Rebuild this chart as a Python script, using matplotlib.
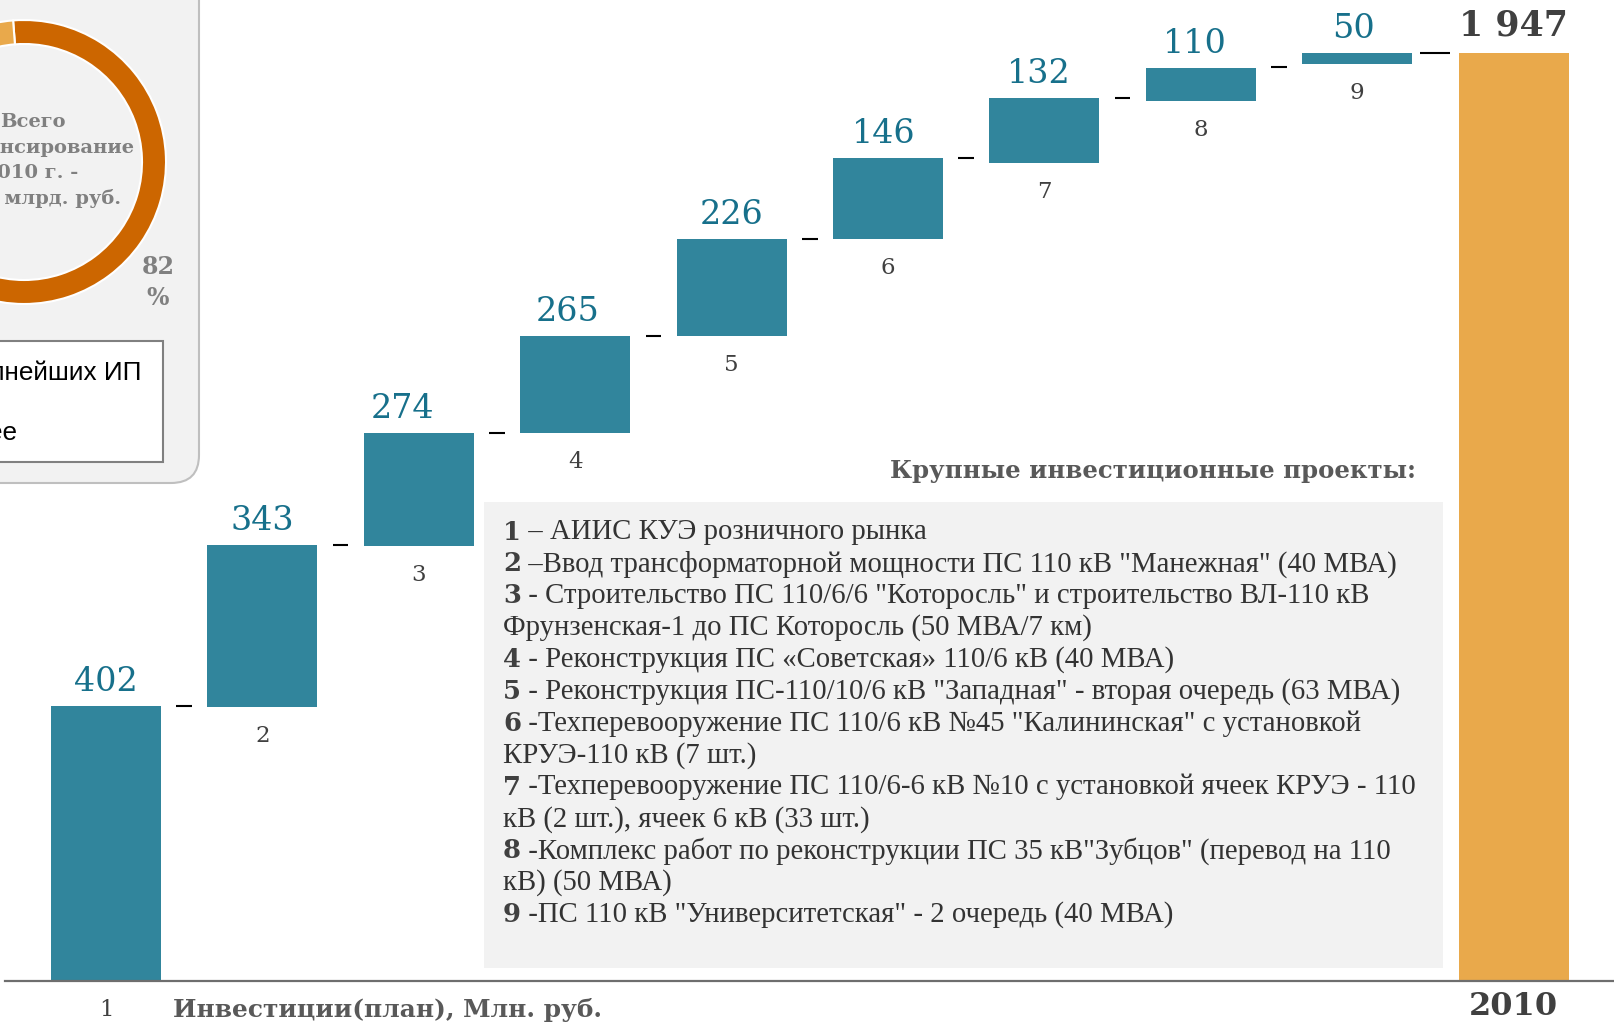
import matplotlib
matplotlib.use('Agg')
import matplotlib.pyplot as plt
from matplotlib.patches import FancyBboxPatch, Rectangle
import numpy as np

W, H, DPI = 1614, 1023, 100

# ---------------- data ----------------
categories = ['1', '2', '3', '4', '5', '6', '7', '8', '9', '2010']
value_labels = ['402', '343', '274', '265', '226', '146', '132', '110', '50', '1 947']
# bar extents as drawn in the picture (chart units, total bar = 1947)
bar_bottom = [0, 575, 913, 1150, 1353, 1557, 1716, 1846, 1924, 0]
bar_height = [577, 339, 236, 203, 203, 169, 136, 69, 22, 1947]
connector_level = [577, 914, 1149, 1353, 1557, 1727, 1852, 1916, 1947]

donut_values = [82, 18]
donut_pct = ['82', '%']
donut_center_lines = ['Всего', 'финансирование', 'на 2010 г. -', '2,4 млрд. руб.']
legend_labels = ['Крупнейших ИП', 'Прочее']

header = 'Крупные инвестиционные проекты:'
projects = [
    ('1', [' – АИИС КУЭ розничного рынка']),
    ('2', [' –Ввод трансформаторной мощности ПС 110 кВ "Манежная" (40 МВА)']),
    ('3', [' - Строительство ПС 110/6/6 "Которосль" и строительство ВЛ-110 кВ',
           'Фрунзенская-1 до ПС Которосль (50 МВА/7 км)']),
    ('4', [' - Реконструкция ПС «Советская» 110/6 кВ (40 МВА)']),
    ('5', [' - Реконструкция ПС-110/10/6 кВ "Западная" - вторая очередь (63 МВА)']),
    ('6', [' -Техперевооружение ПС 110/6 кВ №45 "Калининская" с установкой',
           'КРУЭ-110 кВ (7 шт.)']),
    ('7', [' -Техперевооружение ПС 110/6-6 кВ №10 с установкой ячеек КРУЭ - 110',
           'кВ (2 шт.), ячеек 6 кВ (33 шт.)']),
    ('8', [' -Комплекс работ по реконструкции ПС 35 кВ"Зубцов" (перевод на 110',
           'кВ) (50 МВА)']),
    ('9', [' -ПС 110 кВ "Университетская" - 2 очередь (40 МВА)']),
]
axis_title = 'Инвестиции(план), Млн. руб.'

# small horizontal nudges (pixels) of the value labels, as placed in the original
label_nudge_px = [0, 0, -16, -8, 0, -4, -6, -6, -4, 0]

# ---------------- colours ----------------
TEAL = '#31859c'
TEAL_TXT = '#17708b'
ORANGE = '#e9a94b'
DARK_ORANGE = '#cc6600'
GREY_TXT = '#404040'
PANEL = '#f2f2f2'

SERIF = ['DejaVu Serif']
SERIF_N = ['Liberation Serif', 'DejaVu Serif']

fig = plt.figure(figsize=(W / DPI, H / DPI), dpi=DPI)
fig.patch.set_facecolor('white')

# background / pixel-coordinate layer
bg = fig.add_axes([0, 0, 1, 1], zorder=0)
bg.set_xlim(0, W)
bg.set_ylim(H, 0)
bg.axis('off')

renderer = fig.canvas.get_renderer()


def width_of(t):
    return t.get_window_extent(renderer).width


def fit(t, target):
    t.set_fontsize(t.get_fontsize() * target / width_of(t))


# left panel with donut
bg.add_patch(FancyBboxPatch((-60, -60), 259, 543,
                            boxstyle='round,pad=0,rounding_size=28',
                            fc=PANEL, ec='#bfbfbf', lw=1.5, zorder=1))
bg.add_patch(Rectangle((-60, 341), 222.7, 120.7, fc='white', ec='#808080',
                       lw=1.5, zorder=2))
bg.text(141.7, 373, legend_labels[0], ha='right', va='center',
        fontsize=18.8, family=['Liberation Sans'], color='black', zorder=3)
bg.text(18, 433, legend_labels[1], ha='right', va='center',
        fontsize=18.8, family=['Liberation Sans'], color='black', zorder=3)

center_pos = [(66, 121.7), (134, 148), (78, 173), (121, 199)]
for line, (x, y) in zip(donut_center_lines, center_pos):
    bg.text(x, y, line, ha='right', va='center', fontsize=14,
            family=SERIF, fontweight='bold', color='#808080', zorder=3)
bg.text(158, 267, donut_pct[0], ha='center', va='center', fontsize=17,
        family=SERIF, fontweight='bold', color='#808080', zorder=3)
bg.text(158, 298, donut_pct[1], ha='center', va='center', fontsize=17,
        family=SERIF, fontweight='bold', color='#808080', zorder=3)

# description box
bg.add_patch(Rectangle((484, 502), 959, 465.6, fc=PANEL, ec='none', zorder=1))
th = bg.text(1416, 471, header, ha='right', va='center', fontsize=18,
             family=SERIF, fontweight='bold', color='#595959', zorder=3)
fit(th, 527)

# description lines: fit size so that item 7's first line spans 503..1412
x0 = 503
base = 22.0
num_ratio = 0.9
tn = bg.text(x0, 0, projects[6][0], fontsize=base * num_ratio, family=SERIF,
             fontweight='bold')
tr = bg.text(x0, 0, projects[6][1][0], fontsize=base, family=SERIF_N)
scale = 909 / (width_of(tn) + width_of(tr))
tn.remove()
tr.remove()
size = base * scale

y = 532.0
step = 31.9
for num, lines in projects:
    for k, line in enumerate(lines):
        if k == 0:
            t1 = bg.text(x0, y, num, ha='left', va='center',
                         fontsize=size * num_ratio, family=SERIF,
                         fontweight='bold', color=GREY_TXT, zorder=3)
            w1 = width_of(t1)
            bg.text(x0 + w1, y, line, ha='left', va='center', fontsize=size,
                    family=SERIF_N, color='#333333', zorder=3)
        else:
            bg.text(x0, y, line, ha='left', va='center', fontsize=size,
                    family=SERIF_N, color='#333333', zorder=3)
        y += step

ta = bg.text(173, 1010, axis_title, ha='left', va='center', fontsize=16.5,
             family=SERIF, fontweight='bold', color='#595959', zorder=3)
fit(ta, 427)

# ---------------- waterfall axes ----------------
k = 1947 / 928.3          # chart units per pixel
x_c0, x_step = 106, 156.4  # pixel centre of first bar, spacing
ax = fig.add_axes([0, 0, 1, 1], zorder=1)
ax.patch.set_alpha(0)
ax.set_xlim(-x_c0 / x_step, (W - x_c0) / x_step)
ax.set_ylim(-(H - 981) * k, 981 * k)
ax.axis('off')

x = np.arange(len(categories))
colors = [TEAL] * 9 + [ORANGE]
ax.bar(x, bar_height, bottom=bar_bottom, width=0.703, color=colors,
       edgecolor='none', zorder=2)
ax.axhline(0, xmin=5 / W, xmax=1, color='#6e6e6e', lw=1.6, zorder=3)

for i, lvl in enumerate(connector_level):
    hw = 0.096 if i == len(connector_level) - 1 else 0.05
    ax.hlines(lvl, i + 0.5 - hw, i + 0.5 + hw, color='black', lw=1.5, zorder=3)

PT = 72 / DPI  # points per pixel
for i in range(len(categories)):
    top = bar_bottom[i] + bar_height[i]
    dx = label_nudge_px[i] * PT
    if i < 9:
        ax.annotate(value_labels[i], (x[i], top), xytext=(dx, 15 * PT),
                    textcoords='offset points', ha='center', va='baseline',
                    fontsize=24, family=SERIF, color=TEAL_TXT, zorder=4)
        ax.annotate(categories[i], (x[i], bar_bottom[i]),
                    xytext=(0, -35 * PT), textcoords='offset points',
                    ha='center', va='baseline', fontsize=16.5, family=SERIF,
                    color=GREY_TXT, zorder=4)
    else:
        ax.annotate(value_labels[i], (x[i], top), xytext=(dx, 17 * PT),
                    textcoords='offset points', ha='center', va='baseline',
                    fontsize=25, family=SERIF, fontweight='bold',
                    color=GREY_TXT, zorder=4)
        ax.annotate(categories[i], (x[i], bar_bottom[i]),
                    xytext=(0, -34 * PT), textcoords='offset points',
                    ha='center', va='baseline', fontsize=23, family=SERIF,
                    fontweight='bold', color=GREY_TXT, zorder=4)

# ---------------- donut ----------------
cx, cy, R = 24, 162, 142
dax = fig.add_axes([(cx - R) / W, (H - cy - R) / H, 2 * R / W, 2 * R / H], zorder=2)
dax.pie(donut_values, colors=[DARK_ORANGE, ORANGE], startangle=94.4,
        counterclock=False, radius=1,
        wedgeprops=dict(width=24 / R, edgecolor='white', linewidth=1.5))
dax.set_xlim(-1, 1)
dax.set_ylim(-1, 1)
dax.set_aspect('auto')
dax.axis('off')
dax.patch.set_alpha(0)

fig.savefig('out.png', dpi=DPI, facecolor='white')
